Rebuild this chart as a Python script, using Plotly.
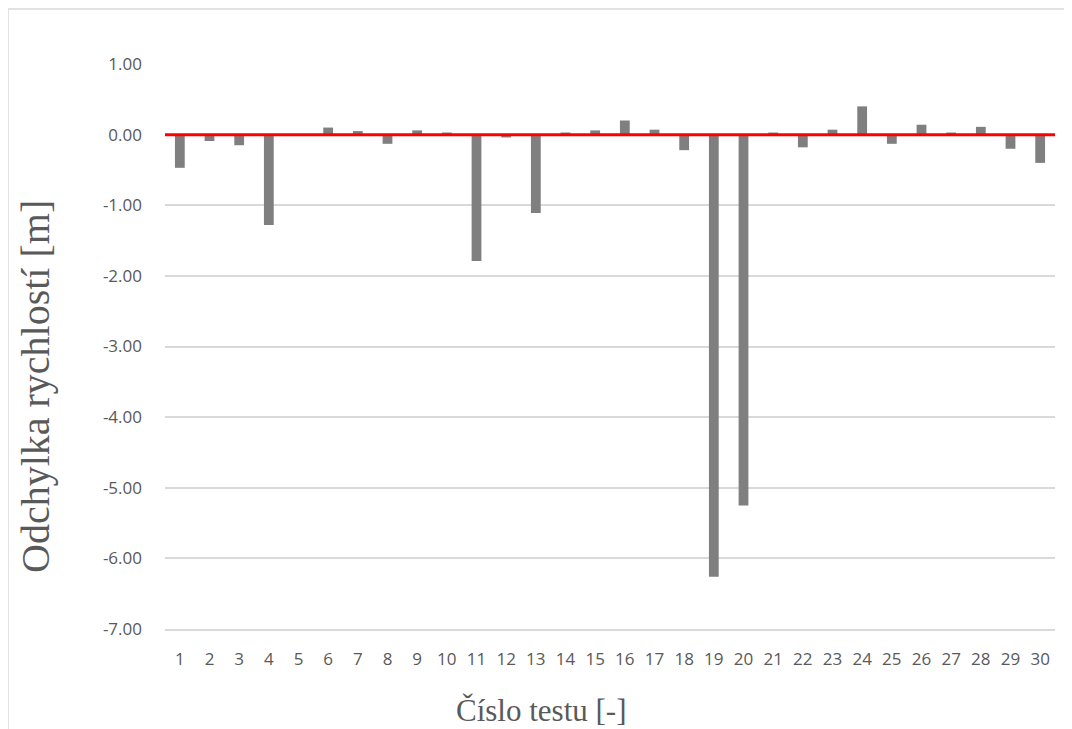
import plotly.graph_objects as go

tests = [str(i) for i in range(1, 31)]
deviation = [-0.47, -0.09, -0.15, -1.28, 0.0, 0.10, 0.05, -0.13, 0.06, 0.03,
             -1.79, -0.04, -1.11, 0.03, 0.06, 0.20, 0.07, -0.22, -6.26, -5.25,
             0.03, -0.18, 0.07, 0.40, -0.13, 0.14, 0.03, 0.11, -0.20, -0.40]
y_ticks = [1, 0, -1, -2, -3, -4, -5, -6, -7]
y_ticktext = [f"{v:.2f}" for v in y_ticks]

W, H = 1064, 721
L, R, T, B = 157, 17, 56, 100
pw, ph = W - L - R, H - T - B

fig = go.Figure()
fig.add_trace(go.Bar(x=tests, y=deviation, marker=dict(color="#7f7f7f", line=dict(width=0)),
                     showlegend=False))

fig.add_shape(type="line", xref="paper", yref="y", x0=0, x1=1, y0=0, y1=0,
              line=dict(color="#ff0000", width=3))
# chart border
fig.add_shape(type="rect", xref="paper", yref="paper",
              x0=-L / pw, x1=1 + 10 / pw, y0=-(B + 20) / ph, y1=1 + 55 / ph,
              line=dict(color="#d9d9d9", width=1.5))

serif = dict(family="Liberation Serif", color="#595959")
fig.add_annotation(text="Číslo testu [-]", xref="paper", yref="paper",
                   x=(541 - 165) / pw, y=-81 / ph, xanchor="center", yanchor="middle",
                   showarrow=False, font=dict(size=31, **serif))
fig.add_annotation(text="Odchylka rychlostí [m]", xref="paper", yref="paper",
                   x=(35 - 165) / pw, y=(629 - 387) / ph, xanchor="center", yanchor="middle",
                   textangle=-90, showarrow=False, font=dict(size=40, **serif))

fig.update_layout(
    width=W, height=H,
    margin=dict(l=L, r=R, t=T, b=B),
    paper_bgcolor="white", plot_bgcolor="white",
    bargap=0.67,
    font=dict(family="Open Sans", color="#595959", size=17),
    xaxis=dict(type="category", showgrid=False, showline=True, linecolor="#d9d9d9",
               linewidth=1.5, ticks="", ticklabelstandoff=14,
               tickfont=dict(size=17, color="#595959")),
    yaxis=dict(range=[-7, 1], tickvals=y_ticks, ticktext=y_ticktext, showgrid=True,
               gridcolor="#d9d9d9", gridwidth=1.5, zeroline=False, ticks="",
               ticklabelstandoff=22, tickfont=dict(size=17, color="#595959")),
)

fig.write_html("out.html")
